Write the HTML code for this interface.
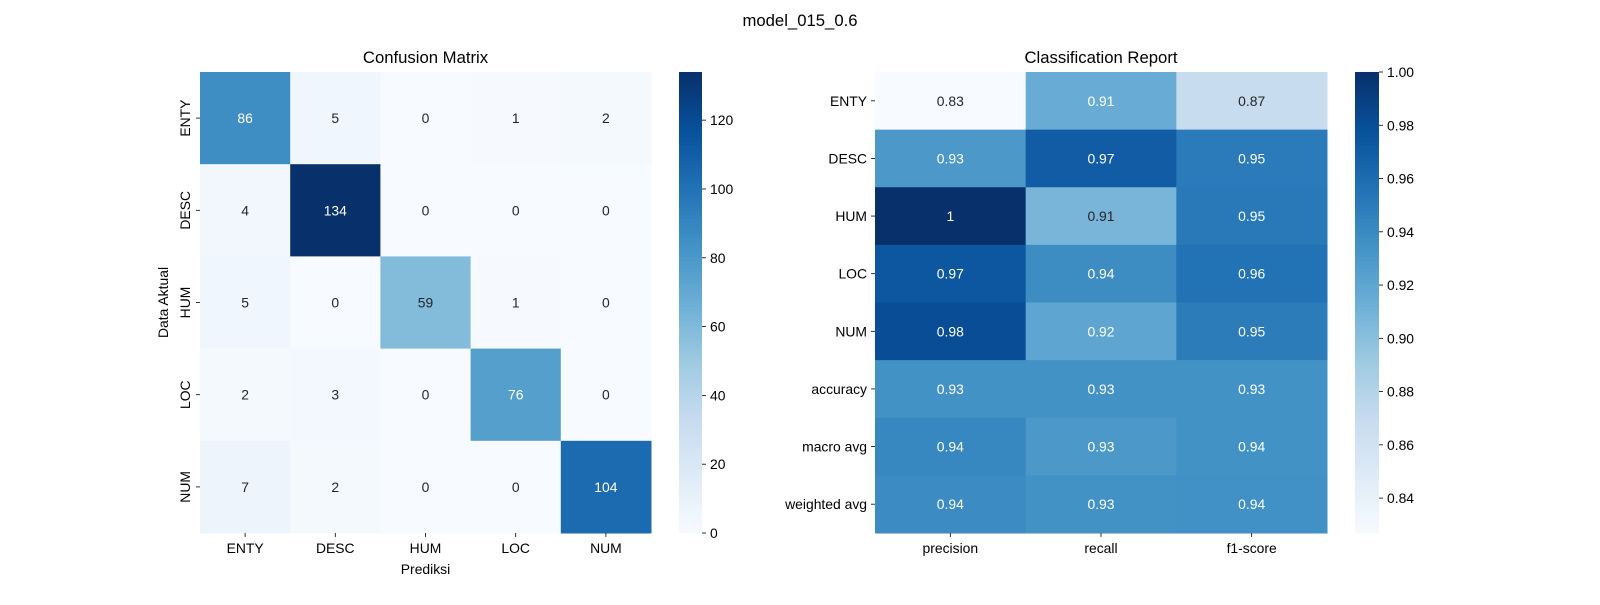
<!DOCTYPE html>
<html><head><meta charset="utf-8"><style>
body{margin:0;background:#fff;}
svg text{font-family:"Liberation Sans","DejaVu Sans",sans-serif;fill:#000;}
</style></head><body>
<svg id="fig" width="1600" height="600" xmlns="http://www.w3.org/2000/svg">
<text x="800" y="26" font-size="16.7" text-anchor="middle">model_015_0.6</text>
<g id="left"></g>
<g id="right"></g>
</svg>
<script>
const cmClasses = ["ENTY","DESC","HUM","LOC","NUM"];
const cmValues = [
 [86,5,0,1,2],
 [4,134,0,0,0],
 [5,0,59,1,0],
 [2,3,0,76,0],
 [7,2,0,0,104]];
const cmTicks = [0,20,40,60,80,100,120];
const crRows = ["ENTY","DESC","HUM","LOC","NUM","accuracy","macro avg","weighted avg"];
const crCols = ["precision","recall","f1-score"];
const crValues = [
 [0.8269,0.9149,0.8687],
 [0.9306,0.9710,0.9504],
 [1.0,0.9077,0.9516],
 [0.9744,0.9383,0.9560],
 [0.9811,0.9204,0.9498],
 [0.9348,0.9348,0.9348],
 [0.9426,0.9305,0.9353],
 [0.9388,0.9348,0.9357]];
const crTicks = [0.84,0.86,0.88,0.90,0.92,0.94,0.96,0.98,1.00];

const NS="http://www.w3.org/2000/svg";
const stops=["#f7fbff","#deebf7","#c6dbef","#9ecae1","#6baed6","#4292c6","#2171b5","#08519c","#08306b"].map(h=>[parseInt(h.slice(1,3),16),parseInt(h.slice(3,5),16),parseInt(h.slice(5,7),16)]);
function cmap(t){t=Math.max(0,Math.min(1,t));const p=t*8,i=Math.min(7,Math.floor(p)),f=p-i;
 return stops[i].map((c,k)=>Math.round(c+(stops[i+1][k]-c)*f));}
function rgb(c){return `rgb(${c[0]},${c[1]},${c[2]})`;}
function lum(c){const l=c.map(v=>{v/=255;return v<=0.03928?v/12.92:Math.pow((v+0.055)/1.055,2.4)});return 0.2126*l[0]+0.7152*l[1]+0.0722*l[2];}
function el(tag,attrs,parent,text){const e=document.createElementNS(NS,tag);for(const k in attrs)e.setAttribute(k,attrs[k]);if(text!==undefined)e.textContent=text;parent.appendChild(e);return e;}

function heatmap(g,rows,cols,vals,box,vmin,vmax,fmt,cb,ticks,tickFmt,title,name){
 const cw=box.w/cols.length, ch=box.h/rows.length;
 const t=el('text',{x:box.x+box.w/2,y:box.y-9,'font-size':16.7,'text-anchor':'middle'},g,title);
 
 
 rows.forEach((r,i)=>cols.forEach((c,j)=>{
  const v=vals[i][j], col=cmap((v-vmin)/(vmax-vmin));
  const rc=el('rect',{x:box.x+j*cw,y:box.y+i*ch,width:cw+0.5,height:ch+0.5,fill:rgb(col)},g);
  
  
  const tx=el('text',{x:box.x+(j+0.5)*cw,y:box.y+(i+0.5)*ch+5,'font-size':13.9,'text-anchor':'middle',style:'fill:'+(lum(col)>0.408?'#262626':'#ffffff')},g,fmt(v));
  
  
 }));
 cols.forEach((c,j)=>{const x=box.x+(j+0.5)*cw;
  el('line',{x1:x,x2:x,y1:box.y+box.h,y2:box.y+box.h+4,stroke:'#000','stroke-width':0.8},g);
  const tl=el('text',{x:x,y:box.y+box.h+20,'font-size':13.9,'text-anchor':'middle'},g,c);
  
  });
 rows.forEach((r,i)=>{const y=box.y+(i+0.5)*ch;
  el('line',{x1:box.x-4,x2:box.x,y1:y,y2:y,stroke:'#000','stroke-width':0.8},g);
  let tl;
  if(box.rot) tl=el('text',{x:0,y:0,'font-size':13.9,'text-anchor':'middle',transform:`translate(${box.x-10},${y}) rotate(-90)`},g,r);
  else tl=el('text',{x:box.x-8,y:y+5,'font-size':13.9,'text-anchor':'end'},g,r);
  
  });
 // colorbar
 const N=120;
 for(let k=0;k<N;k++){const rc=el('rect',{x:cb.x,y:box.y+box.h-(k+1)*box.h/N,width:cb.w,height:box.h/N+0.6,fill:rgb(cmap((k+0.5)/N))},g);}
 const cbr=el('rect',{x:cb.x,y:box.y,width:cb.w,height:box.h,fill:'none'},g);
 
 
 ticks.forEach(tv=>{const y=box.y+box.h-(tv-vmin)/(vmax-vmin)*box.h;
  el('line',{x1:cb.x+cb.w,x2:cb.x+cb.w+4,y1:y,y2:y,stroke:'#000','stroke-width':0.8},g);
  const tl=el('text',{x:cb.x+cb.w+8,y:y+5,'font-size':13.9},g,tickFmt(tv));
  
  });
}
const L=document.getElementById('left'), R=document.getElementById('right');
const cmMax=Math.max(...cmValues.flat());
heatmap(L,cmClasses,cmClasses,cmValues,{x:200,y:72,w:451,h:461,rot:true},0,cmMax,v=>String(v),{x:679,w:23},cmTicks,v=>String(v),'Confusion Matrix','confusion-matrix');
const xl=el('text',{x:425.5,y:574,'font-size':13.9,'text-anchor':'middle'},L,'Prediksi');


const yl=el('text',{x:0,y:0,'font-size':13.9,'text-anchor':'middle',transform:'translate(168,302.5) rotate(-90)'},L,'Data Aktual');


const flat=crValues.flat();
heatmap(R,crRows,crCols,crValues,{x:875,y:72,w:452,h:461,rot:false},Math.min(...flat),Math.max(...flat),v=>String(Number(v.toFixed(2))),{x:1355,w:24},crTicks,v=>v.toFixed(2),'Classification Report','classification-report');
</script>
</body></html>
